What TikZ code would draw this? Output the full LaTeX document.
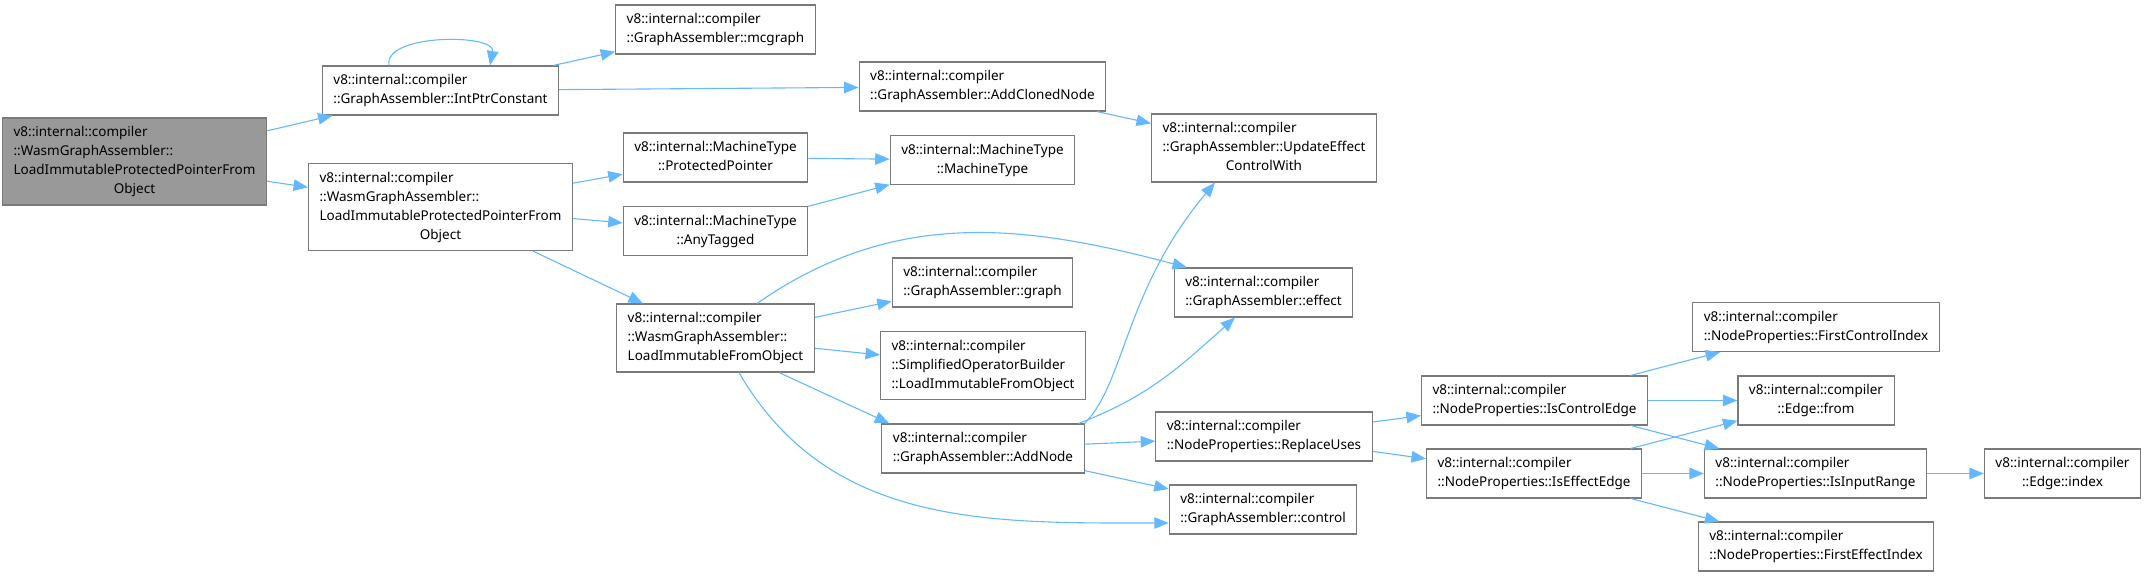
\documentclass[tikz,border=0pt]{standalone}
\usepackage{fontspec}
\setmainfont{Noto Sans}
\usetikzlibrary{arrows.meta}
\definecolor{edgeblue}{HTML}{63B8FF}
\definecolor{boxline}{HTML}{7A7A7A}
\definecolor{mainfill}{HTML}{999999}
\newcommand{\fnlab}[2]{\begin{tabular}{@{}l@{}}#1\\\multicolumn{1}{@{}c@{}}{#2}\end{tabular}}
\tikzset{
  fn/.style={draw=boxline, fill=white, line width=1.1pt, inner xsep=11pt, inner ysep=5.5pt,
    font=\fontsize{13.5}{19}\selectfont},
  fnmain/.style={fn, fill=mainfill},
  call/.style={draw=edgeblue, line width=1.1pt, -{Triangle[length=14.5pt,width=11.5pt]}}
}
\begin{document}
\begin{tikzpicture}[x=1pt, y=-1pt]
  \useasboundingbox (0,0) rectangle (2145,577);
  % functions
  \node [fnmain] (main)   at (134.5,161.5) {\fnlab{v8::internal::compiler\\::WasmGraphAssembler::\\LoadImmutableProtectedPointerFrom}{Object}};
  \node [fn] (intptr)  at (440.5,90.5)  {\fnlab{v8::internal::compiler}{::GraphAssembler::IntPtrConstant}};
  \node [fn] (lipp)    at (440.5,207)   {\fnlab{v8::internal::compiler\\::WasmGraphAssembler::\\LoadImmutableProtectedPointerFrom}{Object}};
  \node [fn] (mcgraph) at (715.5,29.5)  {\fnlab{v8::internal::compiler}{::GraphAssembler::mcgraph}};
  \node [fn] (clone)   at (982.5,86.5)  {\fnlab{v8::internal::compiler}{::GraphAssembler::AddClonedNode}};
  \node [fn] (update)  at (1264,148)    {\fnlab{v8::internal::compiler\\::GraphAssembler::UpdateEffect}{ControlWith}};
  \node [fn] (prot)    at (715.5,157.5) {\fnlab{v8::internal::MachineType}{::ProtectedPointer}};
  \node [fn] (anytag)  at (715.5,231)   {\fnlab{v8::internal::MachineType}{::AnyTagged}};
  \node [fn] (mtype)   at (982.5,160)   {\fnlab{v8::internal::MachineType}{::MachineType}};
  \node [fn] (lifo)    at (715.5,338)   {\fnlab{v8::internal::compiler\\::WasmGraphAssembler::}{LoadImmutableFromObject}};
  \node [fn] (graph)   at (982.5,282.5) {\fnlab{v8::internal::compiler}{::GraphAssembler::graph}};
  \node [fn] (sob)     at (983,365.5)   {\fnlab{v8::internal::compiler\\::SimplifiedOperatorBuilder}{::LoadImmutableFromObject}};
  \node [fn] (addnode) at (983,448.5)   {\fnlab{v8::internal::compiler}{::GraphAssembler::AddNode}};
  \node [fn] (effect)  at (1263.5,292.5) {\fnlab{v8::internal::compiler}{::GraphAssembler::effect}};
  \node [fn] (replace) at (1264,436.5)  {\fnlab{v8::internal::compiler}{::NodeProperties::ReplaceUses}};
  \node [fn] (ctrl)    at (1263,509.5)  {\fnlab{v8::internal::compiler}{::GraphAssembler::control}};
  \node [fn] (isctrl)  at (1534.5,400.5) {\fnlab{v8::internal::compiler}{::NodeProperties::IsControlEdge}};
  \node [fn] (iseff)   at (1534,473.5)  {\fnlab{v8::internal::compiler}{::NodeProperties::IsEffectEdge}};
  \node [fn] (fci)     at (1816,327)    {\fnlab{v8::internal::compiler}{::NodeProperties::FirstControlIndex}};
  \node [fn] (efrom)   at (1816,400.5)  {\fnlab{v8::internal::compiler}{::Edge::from}};
  \node [fn] (inrange) at (1815.5,473.5) {\fnlab{v8::internal::compiler}{::NodeProperties::IsInputRange}};
  \node [fn] (eidx)    at (2062.5,473.5) {\fnlab{v8::internal::compiler}{::Edge::index}};
  \node [fn] (fei)     at (1816,546.5)  {\fnlab{v8::internal::compiler}{::NodeProperties::FirstEffectIndex}};
  % calls
  \draw [call] (main) -- (intptr);
  \draw [call] (main) -- (lipp);
  \draw [call] ([xshift=-51.5pt]intptr.north) .. controls +(-6,-32) and +(6,-32) .. ([xshift=49.5pt]intptr.north);
  \draw [call] (intptr) -- (mcgraph);
  \draw [call] (intptr) -- (clone);
  \draw [call] (clone) -- (update);
  \draw [call] (lipp) -- (prot);
  \draw [call] (lipp) -- (anytag);
  \draw [call] (lipp) -- (lifo);
  \draw [call] (prot) -- (mtype);
  \draw [call] (anytag) -- (mtype);
  \draw [call] ([xshift=41.5pt]lifo.north) .. controls +(138,-96) and +(-162,-43) .. ([xshift=-76.5pt]effect.north);
  \draw [call] (lifo) -- (graph);
  \draw [call] (lifo) -- (sob);
  \draw [call] ([xshift=63.5pt]lifo.south) -- ([xshift=8pt]addnode.north west);
  \draw [call] ([xshift=23.5pt]lifo.south) .. controls +(90,155) and +(-179,0) .. ([yshift=-13.5pt]ctrl.west);
  \draw [call] (addnode.north east) .. controls +(40,-40) and +(-90,107) .. ([xshift=-49pt]update.south);
  \draw [call] ([xshift=-6pt]addnode.north east) .. controls +(70,-27) and +(-56,50) .. ([xshift=-28.5pt]effect.south);
  \draw [call] (addnode) -- (replace);
  \draw [call] (addnode) -- (ctrl);
  \draw [call] (replace) -- (isctrl);
  \draw [call] (replace) -- (iseff);
  \draw [call] (isctrl) -- (fci);
  \draw [call] (isctrl) -- (efrom);
  \draw [call] (isctrl) -- (inrange);
  \draw [call] (iseff) -- (efrom);
  \draw [call] (iseff) -- (inrange);
  \draw [call] (iseff) -- (fei);
  \draw [call] (inrange) -- (eidx);
\end{tikzpicture}
\end{document}
